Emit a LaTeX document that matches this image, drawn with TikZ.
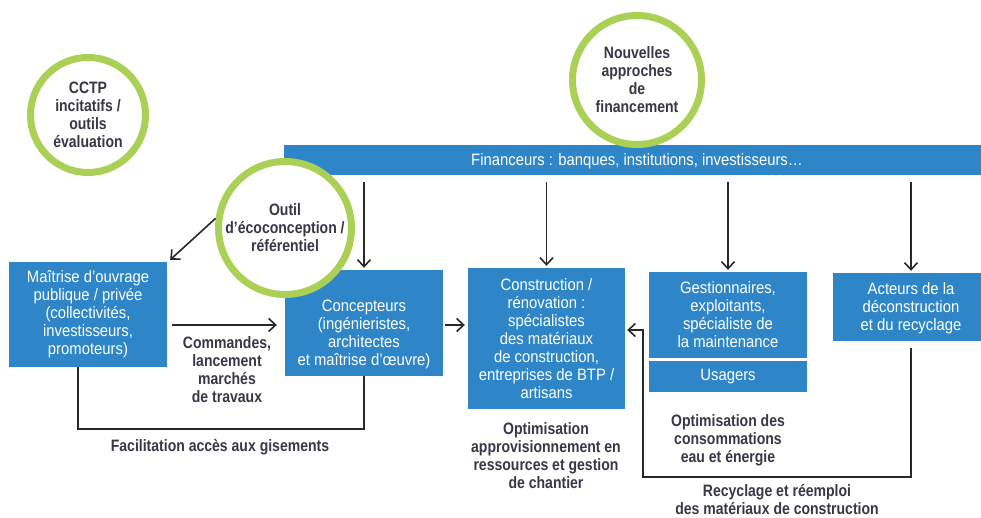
\documentclass[tikz,border=0pt]{standalone}
\usepackage{fontspec}
\setmainfont{Liberation Sans}[FakeStretch=0.9, BoldFeatures={FakeStretch=0.85}]
\usetikzlibrary{arrows.meta}
\definecolor{bblue}{RGB}{46,134,200}
\definecolor{lgreen}{RGB}{170,208,85}
\definecolor{ink}{RGB}{55,55,72}
\definecolor{arr}{RGB}{40,40,40}
\begin{document}
\begin{tikzpicture}[x=1pt,y=-1pt,
  box/.style={fill=bblue, text=white, align=center, inner sep=0pt, font=\fontsize{16.5}{18}\selectfont},
  boxtext/.style={text=white, align=center, inner sep=0pt, font=\fontsize{16.5}{18}\selectfont},
  ring/.style={circle, draw=lgreen, line width=7pt, fill=white, align=center, text=ink, inner sep=0pt, font=\bfseries\fontsize{16.5}{18}\selectfont},
  lbl/.style={align=center, text=ink, inner sep=0pt, font=\bfseries\fontsize{16.5}{18}\selectfont},
  conn/.style={draw=arr, line width=1.6pt, -{Straight Barb[length=7pt,width=13pt,line width=1.6pt]}},
  plainline/.style={draw=arr, line width=2pt}]
\useasboundingbox (0,0) rectangle (981,518);

% financeurs bar
\node[box, minimum width=697pt, minimum height=30pt] (fin) at (632.5,160) {};
\node[boxtext] (fint) at (637,161) {Financeurs : banques, institutions, investisseurs…};

% boxes
\node[box, minimum width=158pt, minimum height=105pt] (mo) at (88,314.5)
  {Maîtrise d’ouvrage\\publique / privée\\(collectivités,\\investisseurs,\\promoteurs)};
\node[box, minimum width=158pt, minimum height=106pt] (conc) at (364,323) {};
\node[boxtext] (conct) at (364,334) {Concepteurs\\(ingénieristes,\\architectes\\et maîtrise d’œuvre)};
\node[box, minimum width=157pt, minimum height=141pt] (cons) at (546.5,338.5)
  {Construction /\\rénovation :\\spécialistes\\des matériaux\\de construction,\\entreprises de BTP /\\artisans};
\node[box, minimum width=158pt, minimum height=86pt] (gest) at (728,315)
  {Gestionnaires,\\exploitants,\\spécialiste de\\la maintenance};
\node[box, minimum width=158pt, minimum height=31pt] (usa) at (728,376.5) {Usagers};
\node[box, minimum width=148pt, minimum height=68pt] (act) at (907,307) {};
\node[boxtext] (actt) at (911,308) {Acteurs de la\\déconstruction\\et du recyclage};

% circles
\node[ring, minimum size=115pt] (cctp) at (88,115) {CCTP\\incitatifs /\\outils\\évaluation};
\node[ring, minimum size=129pt] (nouv) at (637,80) {Nouvelles\\approches\\de\\financement};
\node[ring, minimum size=133pt] (outil) at (285,228) {Outil\\d’écoconception /\\référentiel};

% arrows from financeurs
\draw[conn] ([yshift=-7pt]fin.south -| conc.north) -- ([yshift=2pt]conc.north);
\draw[conn] ([yshift=-7pt]fin.south -| cons.north) -- ([yshift=2pt]cons.north);
\draw[conn] ([yshift=-7pt]fin.south -| gest.north) -- ([yshift=2pt]gest.north);
\draw[conn] ([yshift=-7pt]fin.south -| actt.north) -- ([yshift=2pt]act.north -| actt.north);

% outil -> maitrise
\draw[conn] (outil.172) -- ([xshift=3pt,yshift=2pt]mo.north east);

% commandes
\draw[conn] ([xshift=5pt,yshift=-2pt]mo.east |- conc.west) -- ([xshift=-8pt,yshift=-2pt]conc.west);
\draw[conn] ([xshift=2pt,yshift=-2pt]conc.east) -- ([xshift=-3pt,yshift=-2pt]cons.west |- conc.east);

% facilitation
\draw[plainline] ([xshift=-10pt]mo.south) -- ++(0,62) -| (conc.south);

% recyclage
\coordinate (rcorner) at (643,330);
\draw[conn] ([xshift=4pt,yshift=-7pt]act.south) -- ++(0,129) -| (rcorner) -- ([xshift=2pt]cons.east |- rcorner);

% labels
\node[lbl] (cmd) at (227,370) {Commandes,\\lancement\\marchés\\de travaux};
\node[lbl] (facil) at (220,447) {Facilitation accès aux gisements};
\node[lbl] (opta) at (546,456) {Optimisation\\approvisionnement en\\ressources et gestion\\de chantier};
\node[lbl] (optb) at (728,440) {Optimisation des\\consommations\\eau et énergie};
\node[lbl] (recy) at (777,500) {Recyclage et réemploi\\des matériaux de construction};
\end{tikzpicture}
\end{document}
